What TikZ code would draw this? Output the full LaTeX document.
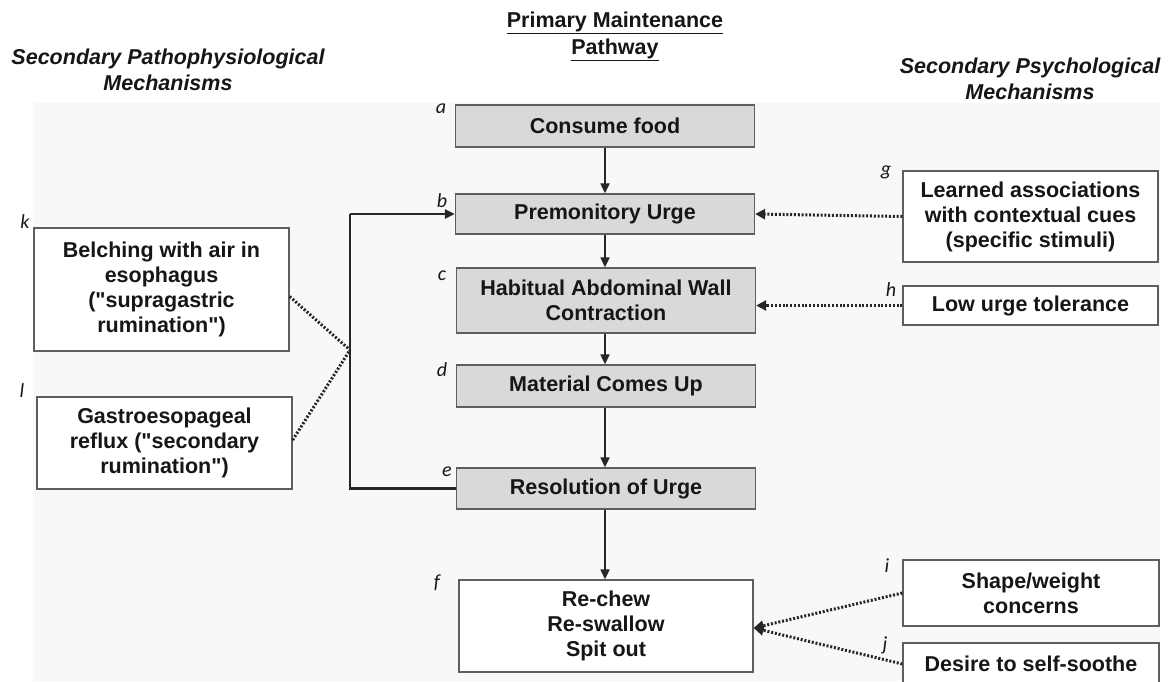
\documentclass[tikz,border=0pt]{standalone}
\usepackage{fontspec}
\setmainfont{Liberation Sans}[Ligatures=TeXOff]
\newfontfamily\lblfont{Carlito}
\usetikzlibrary{arrows.meta}
\definecolor{bgc}{HTML}{F8F8F8}
\definecolor{grayfill}{HTML}{D9D9D9}
\definecolor{boxline}{HTML}{5E5E5E}
\definecolor{txt}{HTML}{161616}
\definecolor{arr}{HTML}{262626}
\begin{document}
\begin{tikzpicture}[x=1pt,y=-1pt,
  boxfont/.style={font=\bfseries\fontsize{21.5}{25}\selectfont, text=txt, align=center},
  pbox/.style={boxfont, draw=boxline, line width=1.3pt, fill=grayfill, inner sep=0pt, minimum width=299pt},
  wbox/.style={boxfont, draw=boxline, line width=1.3pt, fill=white, inner sep=0pt},
  lbl/.style={font=\lblfont\itshape\fontsize{20}{20}\selectfont, text=txt, inner sep=0pt},
  ttl/.style={font=\bfseries\itshape\fontsize{21.5}{26.5}\selectfont, text=txt, align=center},
  flow/.style={draw=arr, line width=2pt, -{Triangle[length=10pt,width=9pt]}},
  loopline/.style={draw=arr, line width=2.4pt},
  dotline/.style={draw=arr, line width=3pt, dash pattern=on 2pt off 1.8pt},
  dotarrow/.style={dotline, -{Triangle[length=10pt,width=10pt]}}
]
\useasboundingbox (0,0) rectangle (1175,681);
\fill[bgc] (33,103) rectangle (1160,681);

% titles
\node[font=\bfseries\fontsize{21.5}{27}\selectfont, text=txt, align=center] (tmain) at (615,36) {\underline{Primary Maintenance}\\\underline{Pathway}};
\node[ttl] (tleft) at (168,70) {Secondary Pathophysiological\\Mechanisms};
\node[ttl] (tright) at (1030,79) {Secondary Psychological\\Mechanisms};

% primary pathway
\node[pbox, minimum height=42pt] (a) at (605,126) {Consume food};
\node[pbox, minimum height=40pt] (b) at (605,214) {Premonitory Urge};
\node[pbox, minimum height=65pt] (c) at (606,300.5) {Habitual Abdominal Wall\\Contraction};
\node[pbox, minimum height=42pt] (d) at (606,386) {Material Comes Up};
\node[pbox, minimum height=41pt] (e) at (606,488.5) {Resolution of Urge};
\node[wbox, minimum width=294pt, minimum height=92pt] (f) at (606,626) {Re-chew\\Re-swallow\\Spit out};

% right boxes
\node[wbox, minimum width=255pt, minimum height=91pt] (g) at (1030.5,216.5) {Learned associations\\with contextual cues\\(specific stimuli)};
\node[wbox, minimum width=255pt, minimum height=39pt] (h) at (1030.5,305.5) {Low urge tolerance};
\node[wbox, minimum width=256pt, minimum height=66pt] (i) at (1031,593) {Shape/weight\\concerns};
\node[wbox, minimum width=256pt, minimum height=42pt] (j) at (1031,664) {Desire to self-soothe};

% left boxes
\node[wbox, minimum width=255pt, minimum height=123pt] (k) at (161.5,289.5) {Belching with air in\\esophagus\\("supragastric\\rumination")};
\node[wbox, minimum width=255pt, minimum height=92pt] (l) at (164.5,443) {Gastroesopageal\\reflux ("secondary\\rumination")};

% letter labels
\node[lbl] (la) at (441,109) {a};
\node[lbl] (lb) at (442,201) {b};
\node[lbl] (lc) at (442,276) {c};
\node[lbl] (ld) at (442,370) {d};
\node[lbl] (le) at (447,472) {e};
\node[lbl] (lf) at (437,583) {f};
\node[lbl] (lg) at (886,172) {g};
\node[lbl] (lh) at (891,290) {h};
\node[lbl] (li) at (887,566) {i};
\node[lbl] (lj) at (885,645) {j};
\node[lbl] (lk) at (25,222) {k};
\node[lbl] (ll) at (22,391) {l};

% main flow arrows
\draw[flow] (a.south) -- (b.north);
\draw[flow] (b.south) -- (c.north -| b.south);
\draw[flow] (c.south -| b.south) -- (d.north -| b.south);
\draw[flow] (d.south -| b.south) -- (e.north -| b.south);
\draw[flow] (e.south -| b.south) -- (f.north -| b.south);

% feedback loop
\coordinate (jx) at (350,350);
\draw[loopline] (e.west) -- (e.west -| jx) -- (b.west -| jx);
\draw[flow, line width=2.4pt] (b.west -| jx) -- (b.west);

% dotted links left
\draw[dotline] ([yshift=-7pt]k.east) -- (jx);
\draw[dotline] ([yshift=3pt]l.east) -- (jx);

% dotted arrows right
\draw[dotarrow] (g.west) -- (b.east);
\draw[dotarrow] (h.west) -- (h.west -| c.east);
\draw[dotarrow] (i.west) -- ([yshift=-2pt]f.east);
\draw[dotarrow] (j.west) -- ([yshift=-2pt]f.east);
\end{tikzpicture}
\end{document}
